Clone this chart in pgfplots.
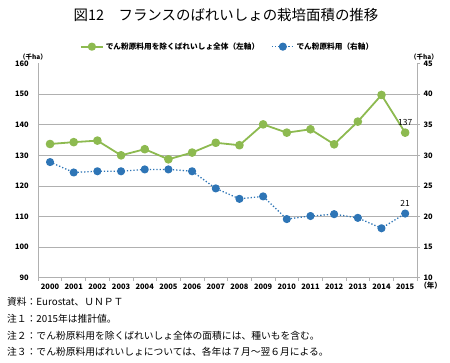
\documentclass[border=0pt]{standalone}
\usepackage{pgfplots}
\pgfplotsset{compat=1.18}
\usepackage{fontspec}
\setmainfont{Noto Sans CJK JP}
\definecolor{cgreen}{RGB}{141,186,80}
\definecolor{cblue}{RGB}{46,117,182}
\definecolor{cgrid}{RGB}{176,176,176}
\newcommand{\tickfont}{\bfseries\fontsize{7.5}{8}\selectfont}
\pgfplotsset{
  commonaxis/.style={
    at={(38.2bp,85.1bp)}, anchor=south west,
    scale only axis, width=378.8bp, height=214.5bp,
    xmin=-0.5, xmax=15.5,
    /pgf/number format/assume math mode=true,
    every axis plot/.append style={line join=round},
    legend image code/.code={\draw[mark repeat=2,mark phase=2,##1] plot coordinates {(0bp,0bp) (11bp,0bp) (22bp,0bp)};},
  }
}
\begin{document}
\begin{tikzpicture}
\path[use as bounding box] (0,0) rectangle (450bp,363bp);
% title
\node[font=\fontsize{14.5}{16}\selectfont] at (226bp,348bp) {図12　フランスのばれいしょの栽培面積の推移};
% axis unit labels
\node[font=\bfseries\fontsize{6.5}{7}\selectfont] at (33bp,306bp) {（千ha）};
\node[font=\bfseries\fontsize{6.5}{7}\selectfont] at (424bp,306bp) {（千ha）};
\node[font=\bfseries\fontsize{7.5}{8}\selectfont, anchor=west] at (416bp,77.3bp) {（年）};
% notes
\begin{scope}[every node/.style={anchor=west, font=\fontsize{9.8}{11}\selectfont, inner sep=0pt}]
\node at (7bp,61bp) {資料：Eurostat、ＵＮＰＴ};
\node at (7bp,44bp) {注１：2015年は推計値。};
\node at (7bp,27.3bp) {注２：でん粉原料用を除くばれいしょ全体の面積には、種いもを含む。};
\node at (7bp,11bp) {注３：でん粉原料用ばれいしょについては、各年は７月～翌６月による。};
\end{scope}

\begin{axis}[commonaxis,
  ymin=90, ymax=160,
  axis x line*=bottom, axis y line*=left,
  axis line style={draw=cgrid, line width=0.8bp},
  ytick={90,100,...,150},
  extra y ticks={160},
  extra y tick style={grid=none},
  ymajorgrids,
  major grid style={draw=cgrid, line width=0.8bp},
  major tick length=0pt,
  xtick={0,...,15},
  xticklabels={2000,2001,2002,2003,2004,2005,2006,2007,2008,2009,2010,2011,2012,2013,2014,2015},
  extra x ticks={-0.5,0.5,...,15.5},
  extra x tick labels={},
  extra x tick style={major tick length=3bp, tick align=outside, tick style={draw=cgrid, line width=0.8bp}},
  ticklabel style={font=\tickfont},
  yticklabel style={xshift=-6bp},
  xticklabel style={yshift=-3bp},
]
\addplot[cgreen, line width=1.8bp, mark=*, mark size=3.4bp, mark options={solid, fill=cgreen, draw=cgreen}]
coordinates {(0,133.7)(1,134.3)(2,134.8)(3,130.0)(4,132.0)(5,128.7)(6,130.9)(7,134.1)(8,133.3)(9,140.1)(10,137.4)(11,138.5)(12,133.6)(13,141.0)(14,149.7)(15,137.4)};
\addplot[draw=none, mark=none, nodes near coords={137}, every node near coord/.append style={font=\fontsize{8.5}{9}\selectfont, anchor=south, yshift=4bp}]
coordinates {(15,137.4)};
\end{axis}

\begin{axis}[commonaxis,
  ymin=10, ymax=45,
  axis x line=none, axis y line*=right,
  axis line style={draw=cgrid, line width=0.8bp},
  ytick={10,15,...,45},
  major tick length=3bp, tick align=outside,
  tick style={draw=cgrid, line width=0.8bp},
  ticklabel style={font=\tickfont},
  yticklabel style={xshift=0bp},
  legend style={at={(0.5,1.078)}, anchor=center, draw=none, fill=none,
    font=\bfseries\fontsize{7.7}{8}\selectfont, legend columns=2,
    /tikz/every even column/.append style={column sep=10bp},
    nodes={inner xsep=2bp}},
]
\addlegendimage{cgreen, line width=1.8bp, mark=*, mark size=3.2bp, mark options={solid, fill=cgreen, draw=cgreen}}
\addlegendentry{でん粉原料用を除くばれいしょ全体（左軸）}
\addplot[cblue, line width=1.3bp, dotted, mark=*, mark size=3.4bp, mark options={solid, fill=cblue, draw=cblue}]
coordinates {(0,28.9)(1,27.2)(2,27.4)(3,27.4)(4,27.7)(5,27.7)(6,27.4)(7,24.6)(8,22.9)(9,23.3)(10,19.6)(11,20.1)(12,20.4)(13,19.8)(14,18.1)(15,20.5)};
\addlegendentry{でん粉原料用（右軸）}
\addplot[draw=none, mark=none, nodes near coords={21}, every node near coord/.append style={font=\fontsize{8.5}{9}\selectfont, anchor=south, yshift=4bp}, forget plot]
coordinates {(15,20.5)};
\end{axis}
\end{tikzpicture}
\end{document}
